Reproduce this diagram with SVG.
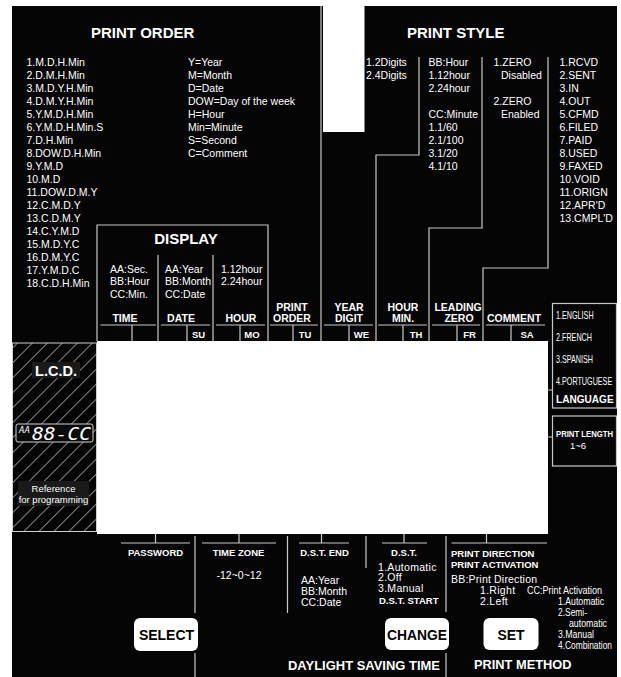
<svg xmlns="http://www.w3.org/2000/svg" width="621" height="677" viewBox="0 0 621 677">
<defs>
<style>
text{font-family:"Liberation Sans",Arial,sans-serif;fill:#fff;font-size:10.5px}
.b{font-weight:bold}
.h{font-size:15px;font-weight:bold}
.m{text-anchor:middle}
.lb{font-size:10.5px;font-weight:bold;text-anchor:middle}
.day{font-size:9.5px;font-weight:bold;text-anchor:middle}
.bl{font-size:9.5px;font-weight:bold}
.sm{font-size:9.5px}
.btn{font-size:14px;font-weight:bold;fill:#000;text-anchor:middle}
.big{font-size:13px;font-weight:bold}
.ln{stroke:#c8c8c8;stroke-width:1.2;fill:none}
.btnr{fill:#fff}
.lang{font-size:10px}
.seg{font-family:"DejaVu Sans Mono",monospace;font-style:italic}
</style>
<pattern id="hatch" patternUnits="userSpaceOnUse" width="10.6" height="10.6" patternTransform="rotate(45)">
<line x1="0" y1="0" x2="0" y2="10.6" stroke="#e0e0e0" stroke-width="1.2"/>
</pattern>
</defs>
<rect x="0" y="0" width="621" height="677" fill="#fff"/>
<rect x="12" y="6" width="605" height="671" fill="#050505"/>
<rect x="323" y="0" width="41.5" height="132" fill="#fff"/>

<g id="print-order">
<text class="h" x="91" y="37.5">PRINT ORDER</text>
<text x="26.5" y="66">1.M.D.H.Min</text>
<text x="26.5" y="79">2.D.M.H.Min</text>
<text x="26.5" y="92">3.M.D.Y.H.Min</text>
<text x="26.5" y="105">4.D.M.Y.H.Min</text>
<text x="26.5" y="118">5.Y.M.D.H.Min</text>
<text x="26.5" y="131">6.Y.M.D.H.Min.S</text>
<text x="26.5" y="144">7.D.H.Min</text>
<text x="26.5" y="157">8.DOW.D.H.Min</text>
<text x="26.5" y="170">9.Y.M.D</text>
<text x="26.5" y="183">10.M.D</text>
<text x="26.5" y="196">11.DOW.D.M.Y</text>
<text x="26.5" y="209">12.C.M.D.Y</text>
<text x="26.5" y="222">13.C.D.M.Y</text>
<text x="26.5" y="235">14.C.Y.M.D</text>
<text x="26.5" y="248">15.M.D.Y.C</text>
<text x="26.5" y="261">16.D.M.Y.C</text>
<text x="26.5" y="274">17.Y.M.D.C</text>
<text x="26.5" y="287">18.C.D.H.Min</text>
<text x="188" y="66">Y=Year</text>
<text x="188" y="79">M=Month</text>
<text x="188" y="92">D=Date</text>
<text x="188" y="105">DOW=Day of the week</text>
<text x="188" y="118">H=Hour</text>
<text x="188" y="131">Min=Minute</text>
<text x="188" y="144">S=Second</text>
<text x="188" y="157">C=Comment</text>
</g>

<g id="print-style">
<text class="h" x="407" y="37.5">PRINT STYLE</text>
<text x="366" y="66">1.2Digits</text>
<text x="366" y="79">2.4Digits</text>
<text x="428.5" y="66">BB:Hour</text>
<text x="428.5" y="79">1.12hour</text>
<text x="428.5" y="92">2.24hour</text>
<text x="428.5" y="118">CC:Minute</text>
<text x="428.5" y="131">1.1/60</text>
<text x="428.5" y="144">2.1/100</text>
<text x="428.5" y="157">3.1/20</text>
<text x="428.5" y="170">4.1/10</text>
<text x="493.5" y="66">1.ZERO</text>
<text x="501" y="79">Disabled</text>
<text x="493.5" y="105">2.ZERO</text>
<text x="501" y="118">Enabled</text>
<text x="559.5" y="66">1.RCVD</text>
<text x="559.5" y="79">2.SENT</text>
<text x="559.5" y="92">3.IN</text>
<text x="559.5" y="105">4.OUT</text>
<text x="559.5" y="118">5.CFMD</text>
<text x="559.5" y="131">6.FILED</text>
<text x="559.5" y="144">7.PAID</text>
<text x="559.5" y="157">8.USED</text>
<text x="559.5" y="170">9.FAXED</text>
<text x="559.5" y="183">10.VOID</text>
<text x="559.5" y="196">11.ORIGN</text>
<text x="559.5" y="209">12.APR'D</text>
<text x="559.5" y="222">13.CMPL'D</text>
</g>

<g id="display">
<text class="h m" x="186" y="244">DISPLAY</text>
<text x="110" y="272.5">AA:Sec.</text>
<text x="110" y="285">BB:Hour</text>
<text x="110" y="297.5">CC:Min.</text>
<text x="165" y="272.5">AA:Year</text>
<text x="165" y="285">BB:Month</text>
<text x="165" y="297.5">CC:Date</text>
<text x="221" y="272.5">1.12hour</text>
<text x="221" y="285">2.24hour</text>
</g>

<g id="column-labels">
<text class="lb" x="125" y="322">TIME</text>
<text class="lb" x="181" y="322">DATE</text>
<text class="lb" x="241" y="322">HOUR</text>
<text class="lb" x="292" y="310.5">PRINT</text>
<text class="lb" x="292" y="322">ORDER</text>
<text class="lb" x="349" y="310.5">YEAR</text>
<text class="lb" x="349" y="322">DIGIT</text>
<text class="lb" x="403" y="310.5">HOUR</text>
<text class="lb" x="403" y="322">MIN.</text>
<text class="lb" x="458" y="310.5">LEADING</text>
<text class="lb" x="459" y="322">ZERO</text>
<text class="lb" x="514" y="322">COMMENT</text>
<text class="day" x="198.5" y="337.5">SU</text>
<text class="day" x="252" y="337.5">MO</text>
<text class="day" x="305" y="337.5">TU</text>
<text class="day" x="361.5" y="337.5">WE</text>
<text class="day" x="416" y="337.5">TH</text>
<text class="day" x="469.5" y="337.5">FR</text>
<text class="day" x="527" y="337.5">SA</text>
</g>

<g id="lcd-screen">
<rect x="97" y="341" width="451" height="193" fill="#fff"/>
</g>

<g id="lcd-panel">
<rect x="12.5" y="343" width="84" height="188.5" fill="url(#hatch)" stroke="#d0d0d0" stroke-width="1"/>
<rect x="32" y="362" width="48" height="16" fill="#1a1a1a"/>
<text class="b m" x="56" y="375.5" style="font-size:14.5px">L.C.D.</text>
<rect x="16" y="424" width="77" height="18" rx="2" fill="#0a0a0a" stroke="#d0d0d0" stroke-width="1"/>
<text class="seg" x="19" y="433" style="font-size:8.5px" textLength="11" lengthAdjust="spacingAndGlyphs">AA</text>
<text class="seg" x="32" y="440" style="font-size:18px" textLength="59" lengthAdjust="spacingAndGlyphs">88-CC</text>
<rect x="18" y="481" width="71" height="25" fill="#1a1a1a"/>
<text class="sm m" x="53.5" y="492">Reference</text>
<text class="sm m" x="53.5" y="502.5">for programming</text>
</g>

<g id="language">
<rect x="552.5" y="303.5" width="64" height="104.5" class="ln"/>
<text class="lang" transform="matrix(0.72 0 0 1 556 318.5)">1.ENGLISH</text>
<text class="lang" transform="matrix(0.72 0 0 1 556 340.5)">2.FRENCH</text>
<text class="lang" transform="matrix(0.72 0 0 1 556 362.5)">3.SPANISH</text>
<text class="lang" transform="matrix(0.72 0 0 1 556 384.5)">4.PORTUGUESE</text>
<text class="b" transform="matrix(0.96 0 0 1 556 403)">LANGUAGE</text>
</g>

<g id="print-length">
<rect x="552.5" y="416" width="64" height="50" class="ln"/>
<text class="b" style="font-size:9px" transform="matrix(0.86 0 0 1 556 437)">PRINT LENGTH</text>
<text class="m" x="578" y="449" style="font-size:9.5px">1~6</text>
</g>

<g id="password">
<text class="bl m" x="155.5" y="556">PASSWORD</text>
</g>
<g id="time-zone">
<text class="bl m" x="238.5" y="556">TIME ZONE</text>
<text class="m" x="239" y="579">-12~0~12</text>
</g>
<g id="dst-end">
<text class="bl m" x="324.5" y="556">D.S.T. END</text>
<text x="301" y="583.5">AA:Year</text>
<text x="301" y="594.5">BB:Month</text>
<text x="301" y="605.5">CC:Date</text>
</g>
<g id="dst">
<text class="bl m" x="404" y="556">D.S.T.</text>
<text x="378" y="570.5" style="letter-spacing:0.3px">1.Automatic</text>
<text x="378" y="581" style="letter-spacing:0.3px">2.Off</text>
<text x="378" y="592" style="letter-spacing:0.3px">3.Manual</text>
<text class="bl" x="379" y="603.5">D.S.T. START</text>
</g>
<g id="print-direction">
<text class="bl" x="451" y="556.5">PRINT DIRECTION</text>
<text class="bl" x="451" y="567.5">PRINT ACTIVATION</text>
<text x="451" y="582.5" textLength="86" lengthAdjust="spacing">BB:Print Direction</text>
<text x="480" y="594" style="letter-spacing:0.3px">1.Right</text>
<text x="480" y="604.5" style="letter-spacing:0.3px">2.Left</text>
<text x="527" y="594" style="font-size:10px" textLength="75" lengthAdjust="spacingAndGlyphs">CC:Print Activation</text>
<text x="558" y="605" style="font-size:10px" textLength="46" lengthAdjust="spacingAndGlyphs">1.Automatic</text>
<text x="558" y="616" style="font-size:10px" textLength="29" lengthAdjust="spacingAndGlyphs">2.Semi-</text>
<text x="569" y="627" style="font-size:10px" textLength="38" lengthAdjust="spacingAndGlyphs">automatic</text>
<text x="558" y="638" style="font-size:10px" textLength="36" lengthAdjust="spacingAndGlyphs">3.Manual</text>
<text x="558" y="649" style="font-size:10px" textLength="54" lengthAdjust="spacingAndGlyphs">4.Combination</text>
</g>

<g id="btn-select">
<rect class="btnr" x="134" y="618" width="64" height="33" rx="6"/>
<text class="btn" x="166.5" y="640">SELECT</text>
</g>
<g id="btn-change">
<rect class="btnr" x="385" y="618" width="64" height="32" rx="6"/>
<text class="btn" x="417" y="640" textLength="60" lengthAdjust="spacingAndGlyphs">CHANGE</text>
</g>
<g id="btn-set">
<rect class="btnr" x="483.5" y="618" width="55" height="32" rx="6"/>
<text class="btn" x="511" y="640">SET</text>
</g>
<g id="titles-bottom">
<text class="big" x="288" y="669.5" textLength="152" lengthAdjust="spacingAndGlyphs">DAYLIGHT SAVING TIME</text>
<text class="big" x="474" y="669" textLength="97.5" lengthAdjust="spacingAndGlyphs">PRINT METHOD</text>
</g>

<g id="connectors" class="ln">
<path d="M321 6V341"/>
<path d="M419 57V155H376V341"/>
<path d="M482 57V228H429V341"/>
<path d="M548 57V268H483V341"/>
<path d="M97 341V225H268V341"/>
<path d="M158 255V341M213 255V341"/>
<path d="M100.5 325H156M161 325H210M216 325H265M270 325H318M324 325H373M378 325H427M432 325H480M486 325H545"/>
<path d="M132 325V341M187 325V341M240 325V341M293 325V341M349 325V341M403 325V341M457 325V341M511 325V341"/>
<path d="M548 390H552.5M548 437H552.5"/>
<path d="M155.5 534V543M121 543H190"/>
<path d="M239 534V543M202 543H276"/>
<path d="M321.5 534V543M299 543H349"/>
<path d="M404 534V543M382 543H427"/>
<path d="M486.5 534V543M451.5 543H547"/>
<path d="M195 536V613M195 653V677"/>
<path d="M287.5 536V613"/>
<path d="M366 536V568"/>
<path d="M446 536V612M446 653V677"/>
</g>
</svg>
